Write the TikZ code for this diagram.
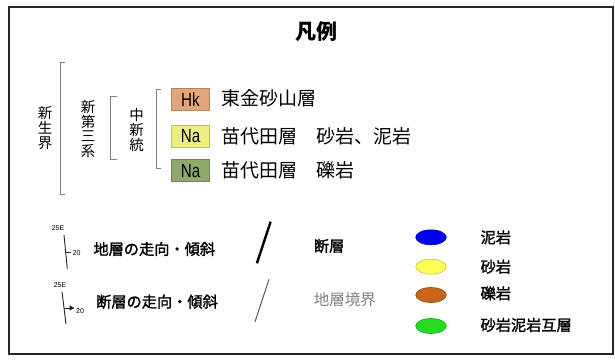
\documentclass[tikz,border=0pt]{standalone}
\usepackage{fontspec}
\setmainfont{Noto Sans CJK JP}
\newfontfamily\jpmed[FakeBold=1.6]{Noto Sans CJK JP}
\newfontfamily\narrowfont[FakeStretch=0.8]{Liberation Sans}
\newfontfamily\smallsans{Liberation Sans}
\usetikzlibrary{shapes.geometric,arrows.meta}
\definecolor{hkc}{HTML}{E2A67C}
\definecolor{nayc}{HTML}{EDED80}
\definecolor{nagc}{HTML}{8DAA6B}
\definecolor{bktc}{HTML}{808080}
\definecolor{mudc}{HTML}{0000F0}
\definecolor{sandc}{HTML}{FFFF55}
\definecolor{gravc}{HTML}{C8651A}
\definecolor{altc}{HTML}{22DD22}
\begin{document}
\begin{tikzpicture}[x=1pt,y=-1pt,
  brk/.style={draw=bktc,line width=0.9pt},
  vtext/.style={align=center,inner sep=0pt,font=\fontsize{14.5}{14.6}\selectfont},
  unitbox/.style={draw=#1!80!black,fill=#1,line width=0.5pt,minimum width=37.6pt,minimum height=22pt,inner sep=0pt,font=\narrowfont\fontsize{19}{19}\selectfont},
  lbl/.style={anchor=west,inner sep=0pt,font=\fontsize{19}{19}\selectfont},
  blbl/.style={anchor=west,inner sep=0pt,font=\jpmed\fontsize{15.2}{15.2}\selectfont},
  tiny/.style={inner sep=0pt,font=\smallsans\fontsize{7}{7}\selectfont},
  strike/.style={line width=0.9pt,draw=black!85},
  ell/.style={ellipse,draw=#1!75!black,fill=#1,line width=0.6pt,minimum width=30.6pt,minimum height=15pt,inner sep=0pt}
]
\useasboundingbox (0,0) rectangle (615,361);
\draw[line width=2pt,black!85] (9,7) rectangle (613,354);
\node[font=\bfseries\fontsize{21}{21}\selectfont] (title) at (316,32) {凡例};

% brackets
\draw[brk] (65,62.7) -- (60,62.7) -- (60,194) -- (65,194);
\draw[brk] (116.7,96.7) -- (110.7,96.7) -- (110.7,159) -- (116.7,159);
\draw[brk] (160.5,89) -- (156.7,89) -- (156.7,168) -- (160.5,168);

\node[vtext] (cenozoic) at (45,128) {新\\生\\界};
\node[vtext] (neogene) at (88,129) {新\\第\\三\\系};
\node[vtext] (miocene) at (136.7,130) {中\\新\\統};

% unit boxes
\node[unitbox=hkc] (hk) at (190.5,99.5) {Hk};
\node[unitbox=nayc] (na1) at (190.5,136) {Na};
\node[unitbox=nagc] (na2) at (190.5,170.7) {Na};
\node[lbl] (hkl) at (221,98) {東金砂山層};
\node[lbl] (na1l) at (221,136) {苗代田層　砂岩、泥岩};
\node[lbl] (na2l) at (221,170.5) {苗代田層　礫岩};

% strike and dip of strata
\coordinate (s1a) at (64,235);
\coordinate (s1b) at (67.3,269);
\draw[strike] (s1a) -- (s1b);
\coordinate (t1a) at (65.7,252.7);
\coordinate (t1b) at (70.5,252.7);
\draw[strike,line width=0.7pt] (t1a) -- (t1b);
\node[tiny] (e1) at (58,228.5) {25E};
\node[tiny] (d1) at (76.5,253) {20};
\node[blbl] (strikel) at (93.3,249) {地層の走向・傾斜};

% strike and dip of fault
\coordinate (s2a) at (62,291.7);
\coordinate (s2b) at (66,324);
\draw[strike] (s2a) -- (s2b);
\coordinate (a2a) at (64,308);
\coordinate (a2b) at (74.5,308);
\draw[strike,line width=0.8pt,-{Triangle[length=5pt,width=5pt]}] (a2a) -- (a2b);
\node[tiny] (e2) at (60,285.5) {25E};
\node[tiny] (d2) at (80,311.5) {20};
\node[blbl] (faultdipl) at (96,301.7) {断層の走向・傾斜};

% fault and boundary
\coordinate (fa) at (270.6,221.7);
\coordinate (fb) at (256.9,263.3);
\draw[line width=2.4pt,black] (fa) -- (fb);
\node[blbl] (faultl) at (313.7,246) {断層};
\coordinate (ba) at (269,279.3);
\coordinate (bb) at (255,321.7);
\draw[line width=1pt,black!65] (ba) -- (bb);
\node[lbl,font=\fontsize{15.5}{15.5}\selectfont,text=black!50] (bndl) at (313.7,299.3) {地層境界};

% lithology ellipses
\node[ell=mudc] (mud) at (431,237.3) {};
\node[ell=sandc] (sand) at (431,266.7) {};
\node[ell=gravc] (grav) at (431,295) {};
\node[ell=altc] (alt) at (431,326) {};
\node[blbl] (mudl) at (480.4,237.3) {泥岩};
\node[blbl] (sandl) at (480.4,266.7) {砂岩};
\node[blbl] (gravl) at (480.4,293.3) {礫岩};
\node[blbl] (altl) at (480.4,325) {砂岩泥岩互層};
\end{tikzpicture}
\end{document}
